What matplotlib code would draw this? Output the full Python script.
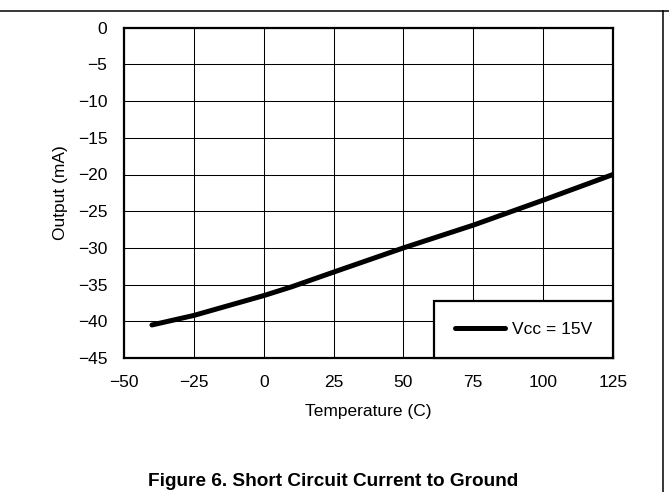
import numpy as np
import matplotlib
matplotlib.use("Agg")
import matplotlib.pyplot as plt

# DATA
temperature = [-40, -25, 0, 10, 25, 50, 75, 100, 125]  # C
output_ma = [-40.5, -39.2, -36.5, -35.3, -33.3, -30.0, -26.9, -23.5, -20.0]  # mA

x_ticks = [-50, -25, 0, 25, 50, 75, 100, 125]
y_ticks = [0, -5, -10, -15, -20, -25, -30, -35, -40, -45]

series_label = "Vcc = 15V"
x_label = "Temperature (C)"
y_label = "Output (mA)"
caption = "Figure 6. Short Circuit Current to Ground"

# FONT SETTINGS
plt.rcParams['font.family'] = ['Liberation Sans', 'DejaVu Sans']
plt.rcParams['font.size'] = 12.5

W, H = 669, 492
fig = plt.figure(figsize=(W / 100, H / 100), dpi=100)
ax = fig.add_axes([124 / W, 1 - 358 / H, (613 - 124) / W, (358 - 27.7) / H])

# PLOT THE DATA
ax.plot(temperature, output_ma, color='black', lw=3.6,
        solid_capstyle='round', label=series_label, zorder=3)

ax.set_xlim(-50, 125)
ax.set_ylim(-45, 0)
ax.set_xticks(x_ticks)
ax.set_yticks(y_ticks)
ax.tick_params(axis='x', length=0, pad=12)
ax.tick_params(axis='y', length=0, pad=12)
ax.grid(True, color='black', lw=0.75)
ax.set_axisbelow(True)
for s in ax.spines.values():
    s.set_linewidth(1.6)

ax.set_xlabel(x_label, labelpad=10)
ax.set_ylabel(y_label, labelpad=7)

leg = ax.legend(loc='lower right', bbox_to_anchor=(1, 0), borderaxespad=0,
                fancybox=False, framealpha=1, edgecolor='black',
                borderpad=1.2, handlelength=2.9, handletextpad=0.4)
leg.get_frame().set_linewidth(1.6)

# CAPTION at the bottom of the page
fig.text(333 / W, 1 - 490 / H, caption, ha='center', va='bottom',
         fontsize=13.7, fontweight='bold')

# page frame lines
fig.add_artist(plt.Line2D([0, 1], [1 - 10.5 / H] * 2, color='black', lw=1.1,
                          transform=fig.transFigure))
fig.add_artist(plt.Line2D([663 / W] * 2, [0, 1 - 10.5 / H], color='black', lw=1.1,
                          transform=fig.transFigure))

fig.savefig("out.png", dpi=100)
